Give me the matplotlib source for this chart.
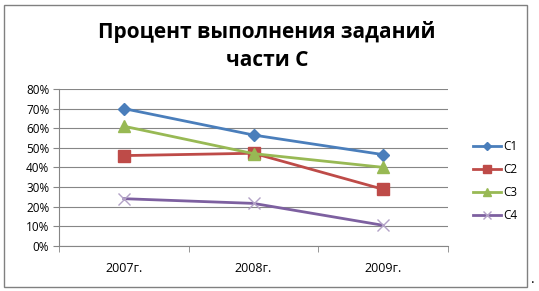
import matplotlib
matplotlib.use("Agg")
import matplotlib.pyplot as plt
from matplotlib.patches import Rectangle

years = ["2007г.", "2008г.", "2009г."]
c1 = [0.70, 0.565, 0.465]
c2 = [0.46, 0.472, 0.288]
c3 = [0.61, 0.47, 0.40]
c4 = [0.24, 0.216, 0.104]
series = ["C1", "C2", "C3", "C4"]

plt.rcParams['font.family'] = ['Open Sans', 'DejaVu Sans']

fig = plt.figure(figsize=(5.39, 2.91), dpi=100)
ax = fig.add_axes([59 / 539, 1 - 245.7 / 291, (448 - 59) / 539, (245.7 - 89) / 291])

# outer frame of the chart
fig.patches.append(Rectangle((4 / 539, 4 / 291), 523 / 539, 282 / 291, transform=fig.transFigure,
                             fill=False, edgecolor="#808080", linewidth=1))

x = range(len(years))
ax.plot(x, c1, color="#4A7EBB", lw=2, marker="D", ms=6, label=series[0])
ax.plot(x, c2, color="#BE4B48", lw=2, marker="s", ms=8, label=series[1])
ax.plot(x, c3, color="#98B954", lw=2, marker="^", ms=8, label=series[2])
ax.plot(x, c4, color="#7D60A0", lw=2, marker="x", ms=8, mec="#B3A2C7", mew=1, label=series[3])

ax.set_xlim(-0.5, 2.5)
ax.set_ylim(0, 0.8)
ax.set_yticks([i / 10 for i in range(9)])
ax.set_yticklabels([f"{i * 10}%" for i in range(9)])
ax.set_xticks(list(x))
ax.set_xticklabels(years)
ax.set_xticks([-0.5, 0.5, 1.5, 2.5], minor=True)
ax.tick_params(axis="x", which="major", length=0, pad=12, labelsize=9)
ax.tick_params(axis="x", which="minor", length=4, color="#868686")
ax.tick_params(axis="y", length=4, color="#868686", labelsize=8.5, pad=3)
ax.grid(axis="y", color="#868686", lw=0.8)
ax.set_axisbelow(True)
for s in ["top", "right"]:
    ax.spines[s].set_visible(False)
ax.spines["left"].set_color("#868686")
ax.spines["bottom"].set_color("#868686")

ax.legend(loc="center left", bbox_to_anchor=(462 / 539, 1 - 181 / 291), bbox_transform=fig.transFigure,
          frameon=False, fontsize=8.5, handlelength=2.4, labelspacing=0.85, handletextpad=0.2,
          markerscale=0.75)

fig.text(267 / 539, 1 - 46 / 291, "Процент выполнения заданий\nчасти С", ha="center", va="center",
         fontsize=15, fontweight="bold", linespacing=1.4)
fig.text(531 / 539, 1 - 283 / 291, ".", fontsize=10)

fig.savefig("out.png", dpi=100)
